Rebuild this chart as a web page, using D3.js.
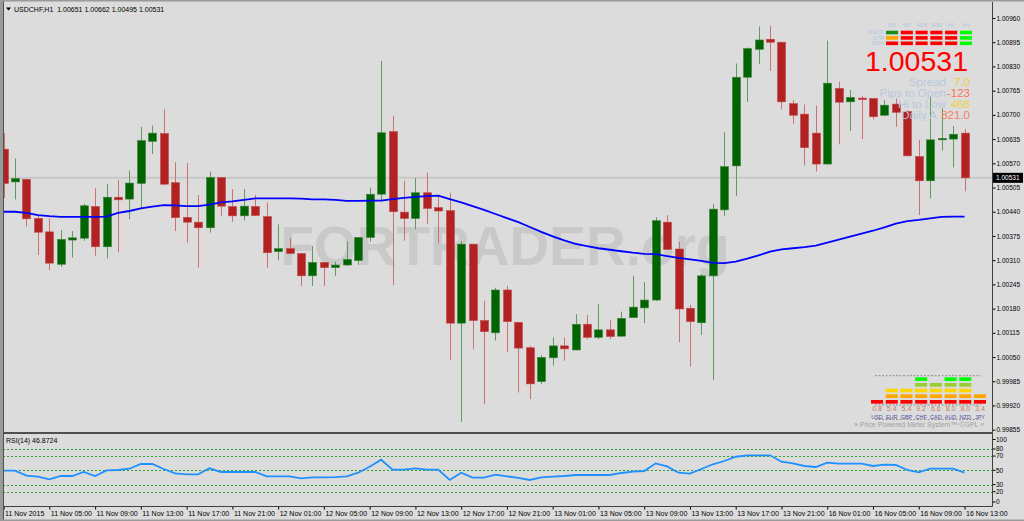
<!DOCTYPE html>
<html><head><meta charset="utf-8">
<script src="https://cdn.jsdelivr.net/npm/d3@7"></script>
<style>html,body{margin:0;padding:0;background:#dcdcdc;overflow:hidden}svg text{font-family:"Liberation Sans",Arial,sans-serif}</style>
</head><body><svg id="c" width="1024" height="521"></svg>
<script>
// ---------------- DATA ----------------
const headerText = "USDCHF,H1  1.00651 1.00662 1.00495 1.00531";
const open = [1.00608,1.00520,1.00527,1.00422,1.00386,1.00299,1.00364,1.00369,1.00454,1.00346,
1.00479,1.00474,1.00516,1.00629,1.00650,1.00518,1.00425,1.00412,1.00397,1.00532,
1.00454,1.00429,1.00454,1.00427,1.00333,1.00341,1.00328,1.00268,1.00304,1.00290,
1.00297,1.00309,1.00371,1.00487,1.00655,1.00439,1.00422,1.00491,1.00451,1.00443,
1.00141,1.00353,1.00148,1.00115,1.00230,1.00143,1.00075,0.99984,1.00048,1.00080,
1.00069,1.00138,1.00103,1.00123,1.00106,1.00156,1.00182,1.00203,1.00412,1.00340,
1.00181,1.00142,1.00268,1.00445,1.00563,1.00801,1.00876,1.00903,1.00895,1.00730,
1.00702,1.00651,1.00568,1.00771,1.00735,1.00745,1.00744,1.00699,1.00729,1.00709,
1.00588,1.00523,1.00633,1.00635,1.00651];
const high = [1.00651,1.00583,1.00529,1.00431,1.00422,1.00391,1.00388,1.00461,1.00503,1.00514,
1.00525,1.00550,1.00668,1.00671,1.00715,1.00573,1.00571,1.00485,1.00548,1.00533,
1.00501,1.00501,1.00485,1.00465,1.00406,1.00370,1.00329,1.00348,1.00305,1.00306,
1.00360,1.00372,1.00505,1.00845,1.00697,1.00523,1.00531,1.00545,1.00480,1.00491,
1.00361,1.00354,1.00201,1.00236,1.00241,1.00144,1.00080,1.00055,1.00103,1.00102,
1.00165,1.00163,1.00192,1.00149,1.00172,1.00268,1.00251,1.00425,1.00431,1.00360,
1.00190,1.00273,1.00461,1.00653,1.00838,1.00881,1.00937,1.00939,1.00896,1.00740,
1.00728,1.00725,1.00899,1.00789,1.00767,1.00751,1.00745,1.00740,1.00744,1.00713,
1.00633,1.00749,1.00718,1.00670,1.00662];
const low = [1.00477,1.00473,1.00400,1.00324,1.00284,1.00292,1.00317,1.00362,1.00322,1.00315,
1.00331,1.00420,1.00449,1.00595,1.00511,1.00388,1.00357,1.00290,1.00384,1.00429,
1.00413,1.00416,1.00428,1.00290,1.00310,1.00327,1.00241,1.00241,1.00241,1.00268,
1.00294,1.00297,1.00360,1.00467,1.00243,1.00362,1.00393,1.00407,1.00355,1.00042,
0.99876,1.00071,0.99923,1.00094,1.00063,0.99955,0.99937,0.99978,1.00027,1.00040,
1.00068,1.00098,1.00098,1.00098,1.00105,1.00155,1.00141,1.00200,1.00338,1.00090,
1.00024,1.00109,0.99988,1.00429,1.00483,1.00735,1.00836,1.00818,1.00715,1.00676,
1.00564,1.00548,1.00567,1.00621,1.00657,1.00635,1.00688,1.00698,1.00668,1.00589,
1.00431,1.00476,1.00604,1.00559,1.00495];
const close = [1.00516,1.00529,1.00421,1.00385,1.00302,1.00366,1.00370,1.00456,1.00346,1.00479,
1.00472,1.00517,1.00631,1.00651,1.00514,1.00424,1.00412,1.00397,1.00532,1.00455,
1.00429,1.00455,1.00430,1.00330,1.00341,1.00328,1.00268,1.00304,1.00290,1.00297,
1.00312,1.00371,1.00487,1.00652,1.00440,1.00422,1.00491,1.00449,1.00442,1.00141,
1.00353,1.00148,1.00118,1.00230,1.00145,1.00074,0.99978,1.00049,1.00080,1.00072,
1.00138,1.00103,1.00123,1.00105,1.00154,1.00184,1.00203,1.00416,1.00339,1.00179,
1.00145,1.00268,1.00447,1.00561,1.00801,1.00878,1.00901,1.00895,1.00735,1.00699,
1.00612,1.00568,1.00785,1.00734,1.00747,1.00741,1.00695,1.00726,1.00707,1.00590,
1.00523,1.00633,1.00637,1.00648,1.00531];
const maValues = [1.00440,1.00440,1.00437,1.00431,1.00428,1.00426,1.00426,1.00426,1.00426,1.00427,
1.00437,1.00442,1.00449,1.00454,1.00458,1.00457,1.00455,1.00455,1.00459,1.00465,
1.00468,1.00472,1.00476,1.00476,1.00476,1.00476,1.00475,1.00473,1.00473,1.00472,
1.00469,1.00469,1.00470,1.00470,1.00474,1.00477,1.00480,1.00482,1.00483,1.00474,
1.00465,1.00455,1.00445,1.00434,1.00423,1.00412,1.00399,1.00386,1.00374,1.00363,
1.00354,1.00348,1.00342,1.00338,1.00334,1.00330,1.00327,1.00326,1.00321,1.00316,
1.00312,1.00308,1.00303,1.00302,1.00306,1.00314,1.00323,1.00333,1.00339,1.00342,
1.00345,1.00349,1.00357,1.00365,1.00373,1.00381,1.00389,1.00398,1.00408,1.00415,
1.00418,1.00422,1.00426,1.00427,1.00427];
const rsiValues = [49.5,49.5,42.5,41.1,37.4,42.1,42.1,47.7,42.1,50.0,
50.5,52.3,58.9,58.9,51.9,45.9,44.4,44.4,52.9,47.7,
47.7,47.7,47.7,41.6,41.6,41.6,38.8,40.2,40.2,40.6,
41.6,46.7,55.1,64.9,50.9,50.9,52.9,50.9,50.9,36.5,
46.7,39.7,39.7,43.9,41.6,39.5,36.5,40.2,41.1,42.1,
43.5,43.5,43.5,43.5,46.3,48.1,49.1,59.8,55.6,46.7,
45.3,51.9,58.5,63.1,69.1,71.1,71.1,71.1,62.1,59.8,
56.1,54.7,60.7,59.3,59.3,59.3,56.1,57.9,57.5,50.5,
47.3,52.3,52.3,52.3,46.9];
const rsiLabel = "RSI(14) 46.8724";
const lastPrice = 1.00531;
const priceTicks = [1.00960,1.00895,1.00830,1.00765,1.00700,1.00635,1.00570,1.00505,1.00440,
1.00375,1.00310,1.00245,1.00180,1.00115,1.00050,0.99985,0.99920,0.99855];
const rsiTicks = [100,80,70,50,30,20,0];
const rsiLevels = [80,70,50,30,20];
const xTickLabels = ["11 Nov 2015","11 Nov 05:00","11 Nov 09:00","11 Nov 13:00","11 Nov 17:00","11 Nov 21:00",
"12 Nov 01:00","12 Nov 05:00","12 Nov 09:00","12 Nov 13:00","12 Nov 17:00","12 Nov 21:00",
"13 Nov 01:00","13 Nov 05:00","13 Nov 09:00","13 Nov 13:00","13 Nov 17:00","13 Nov 21:00",
"16 Nov 01:00","16 Nov 05:00","16 Nov 09:00","16 Nov 13:00"];
const watermark = "FORTRADER.org";
const tfLabels = ["M1","M5","M15","M30","H1","H4"];
const signalRows = ["MACD","STR","EMA"];
const signalColors = [
  ["#1a8a1a","#ff0000","#ff0000","#ff0000","#ff0000","#00ff00"],
  ["#ffa500","#ff0000","#ff0000","#ff0000","#ff0000","#00ff00"],
  ["#ff0000","#ff0000","#ff0000","#ff0000","#ff0000","#00ff00"]];
const infoLabels = ["Spread","Pips to Open","Hi to Low","Daily A"];
const infoValues = ["7.0","-123","468","821.0"];
const infoColors = ["#f0d040","#ff7050","#f0d040","#f88060"];
const currencies = ["USD","EUR","GBP","CHF","CAD","AUD","NZD","JPY"];
const strength = [0.8,5.4,5.4,9.2,6.6,8.0,8.0,3.4];
const strengthLevels = [1,3,3,5,4,5,5,2];
const levelColors = ["#ff0000","#ffa500","#ffd700","#9acd32","#00ff00"];
const meterCaption = "» Price Powered Meter System™ ©GPL «";

// ---------------- CHART ----------------
const svg = d3.select("#c");
const n = close.length;
const x = d3.scaleLinear().domain([0, n - 1]).range([3.6, 964.5]);
const y = d3.scaleLinear().domain([0.99855, 1.00960]).range([429.7, 18]);
const yR = d3.scaleLinear().domain([0, 100]).range([506, 434.7]);

svg.append("rect").attr("width",1024).attr("height",521).attr("fill","#dcdcdc");

const defs = svg.append("defs");
defs.append("clipPath").attr("id","mainClip").append("rect").attr("x",3).attr("y",2).attr("width",989).attr("height",430);
defs.append("clipPath").attr("id","rsiClip").append("rect").attr("x",3).attr("y",435).attr("width",989).attr("height",71);

const main = svg.append("g").attr("clip-path","url(#mainClip)");

// watermark
main.append("text").attr("x",505).attr("y",265).attr("text-anchor","middle")
  .attr("font-size",55).attr("font-weight","bold").attr("fill","#c9c9c9").text(watermark);

// bid line
main.append("line").attr("x1",3).attr("x2",992).attr("y1",y(lastPrice)).attr("y2",y(lastPrice))
  .attr("stroke","#c8c8c8").attr("stroke-width",2);

// candles
const idx = d3.range(n);
const up = i => close[i] >= open[i];
const cg = main.append("g");
cg.selectAll("line.w").data(idx).join("line").attr("class","w")
  .attr("x1",i=>Math.round(x(i))+0.5).attr("x2",i=>Math.round(x(i))+0.5)
  .attr("y1",i=>y(high[i])).attr("y2",i=>y(low[i]))
  .attr("stroke",i=>up(i)?"#5f9a5f":"#cf7070").attr("stroke-width",1);
cg.selectAll("rect.b").data(idx).join("rect").attr("class","b")
  .attr("x",i=>Math.round(x(i))-3.5).attr("width",8)
  .attr("y",i=>y(Math.max(open[i],close[i])))
  .attr("height",i=>Math.max(1.5, y(Math.min(open[i],close[i])) - y(Math.max(open[i],close[i]))))
  .attr("fill",i=>up(i)?"#006400":"#b22222")
  .attr("stroke",i=>up(i)?"#3d803d":"#c04848").attr("stroke-width",0.6);

// moving average
main.append("path").datum(idx)
  .attr("d", d3.line().x(i=>x(i)).y(i=>y(maValues[i])))
  .attr("fill","none").attr("stroke","#0000ff").attr("stroke-width",1.8);

// header
svg.append("path").attr("d","M6,7.5 L11,7.5 L8.5,10.5 Z").attr("fill","#000");
svg.append("text").attr("x",14).attr("y",11.5).attr("font-size",7).attr("fill","#000")
  .attr("xml:space","preserve").text(headerText);

// top-right signal panel
const colX = d3.scaleBand().domain(tfLabels).range([886, 972]).paddingInner(0.18);
const tp = svg.append("g");
tp.selectAll("text.tf").data(tfLabels).join("text").attr("class","tf")
  .attr("x",d=>colX(d)+colX.bandwidth()/2).attr("y",27).attr("text-anchor","middle")
  .attr("font-size",5.5).attr("fill","#b0c4de").text(d=>d);
const rowY = d3.scalePoint().domain(signalRows).range([32.5, 43.3]);
tp.selectAll("text.rl").data(signalRows).join("text").attr("class","rl")
  .attr("x",884).attr("y",d=>rowY(d)+1.9).attr("text-anchor","end")
  .attr("font-size",5.5).attr("fill","#b0c4de").text(d=>d);
signalRows.forEach((r,ri)=>{
  tp.selectAll("rect.s"+ri).data(tfLabels).join("rect").attr("class","s"+ri)
    .attr("x",d=>colX(d)).attr("width",colX.bandwidth())
    .attr("y",rowY(r)-1.8).attr("height",3.6)
    .attr("fill",(d,ci)=>signalColors[ri][ci]);
});
tp.append("text").attr("x",968).attr("y",71).attr("text-anchor","end")
  .attr("font-size",28.5).attr("fill","#ff0000").text(lastPrice.toFixed(5));
const infoY = d3.scalePoint().domain(infoLabels).range([85.5, 118.5]);
tp.selectAll("text.il").data(infoLabels).join("text").attr("class","il")
  .attr("x",(d,i)=>i===3?937:946).attr("y",d=>infoY(d)).attr("text-anchor","end")
  .attr("font-size",11.5).attr("fill","#b8c8dc").text(d=>d);
tp.selectAll("text.iv").data(infoValues).join("text").attr("class","iv")
  .attr("x",970).attr("y",(d,i)=>infoY(infoLabels[i])).attr("text-anchor","end")
  .attr("font-size",11.5).attr("fill",(d,i)=>infoColors[i]).text(d=>d);

// bottom-right currency meter
const mx = d3.scaleBand().domain(currencies).range([871, 986]).paddingInner(0.18);
const lvY = d3.scaleLinear().domain([0, 4]).range([400, 377.3]);
const mg = svg.append("g");
[375.7, 405, 419.5].forEach(yy=>{
  mg.append("line").attr("x1",875).attr("x2",981).attr("y1",yy).attr("y2",yy)
    .attr("stroke","#7a7a7a").attr("stroke-width",0.8).attr("stroke-dasharray","2,1.5");
});
currencies.forEach((c,ci)=>{
  mg.selectAll("rect.m"+ci).data(d3.range(strengthLevels[ci])).join("rect").attr("class","m"+ci)
    .attr("x",mx(c)).attr("width",mx.bandwidth()).attr("y",l=>lvY(l)).attr("height",3.7)
    .attr("fill",l=>levelColors[l]);
});
mg.selectAll("text.mv").data(strength).join("text").attr("class","mv")
  .attr("x",(d,i)=>mx(currencies[i])+mx.bandwidth()/2).attr("y",411).attr("text-anchor","middle")
  .attr("font-size",7).attr("fill","#c08060").text(d=>d.toFixed(1));
mg.selectAll("text.mc").data(currencies).join("text").attr("class","mc")
  .attr("x",d=>mx(d)+mx.bandwidth()/2).attr("y",418.5).attr("text-anchor","middle")
  .attr("font-size",5.5).attr("fill","#5050a0").text(d=>d);
mg.append("text").attr("x",919).attr("y",427).attr("text-anchor","middle")
  .attr("font-size",7).attr("fill","#a0a0a0").text(meterCaption);

// price axis
const pa = svg.append("g").attr("transform","translate(992.5,0)")
  .call(d3.axisRight(y).tickValues(priceTicks).tickFormat(d3.format(".5f")).tickSize(3).tickPadding(1));
pa.select(".domain").remove();
pa.selectAll("text").attr("font-size",6.5).attr("font-family","'Liberation Sans',Arial,sans-serif").attr("fill","#000");
pa.selectAll("line").attr("stroke","#000");

// current price box
svg.append("rect").attr("x",993).attr("y",y(lastPrice)-5).attr("width",30).attr("height",10).attr("fill","#000");
svg.append("text").attr("x",996).attr("y",y(lastPrice)+2.3).attr("font-size",6.5).attr("fill","#fff").text(lastPrice.toFixed(5));

// RSI panel
const rp = svg.append("g").attr("clip-path","url(#rsiClip)");
rp.selectAll("line.lv").data(rsiLevels).join("line").attr("class","lv")
  .attr("x1",3).attr("x2",992).attr("y1",d=>Math.round(yR(d))+0.5).attr("y2",d=>Math.round(yR(d))+0.5)
  .attr("stroke","#2ea02e").attr("stroke-width",1).attr("stroke-dasharray","2,2");
rp.append("path").datum(idx)
  .attr("d", d3.line().x(i=>x(i)).y(i=>yR(rsiValues[i])))
  .attr("fill","none").attr("stroke","#1e90ff").attr("stroke-width",1.8);
svg.append("text").attr("x",6).attr("y",442.5).attr("font-size",7).attr("fill","#000").text(rsiLabel);
svg.selectAll("text.rt").data(rsiTicks).join("text").attr("class","rt")
  .attr("x",996).attr("y",d=>Math.min(502, Math.max(439.5, yR(d)))+2.3)
  .attr("font-size",6.5).attr("fill","#000").text(d=>d);
svg.selectAll("line.rtk").data(rsiTicks).join("line").attr("class","rtk")
  .attr("x1",992.5).attr("x2",995.5)
  .attr("y1",d=>Math.min(502, Math.max(439.5, yR(d)))).attr("y2",d=>Math.min(502, Math.max(439.5, yR(d))))
  .attr("stroke","#000");

// time axis
const xa = svg.append("g").attr("transform","translate(0,506.5)")
  .call(d3.axisBottom(x).tickValues(d3.range(0, n, 4)).tickFormat((d,i)=>xTickLabels[i]).tickSize(3).tickPadding(2));
xa.select(".domain").remove();
xa.selectAll("line").attr("stroke","#000");
xa.selectAll("text").attr("text-anchor","start").attr("x",1).attr("font-size",7)
  .attr("font-family","'Liberation Sans',Arial,sans-serif").attr("fill","#000");

// frames
svg.append("line").attr("x1",992.5).attr("x2",992.5).attr("y1",2).attr("y2",506.5).attr("stroke","#404040").attr("stroke-width",1);
svg.append("line").attr("x1",3).attr("x2",992.5).attr("y1",433).attr("y2",433).attr("stroke","#505050").attr("stroke-width",2);
svg.append("line").attr("x1",3).attr("x2",992.5).attr("y1",506.5).attr("y2",506.5).attr("stroke","#404040").attr("stroke-width",1);
svg.append("rect").attr("x",0).attr("y",0).attr("width",3).attr("height",521).attr("fill","#9a9a9a");
svg.append("line").attr("x1",3.5).attr("x2",3.5).attr("y1",0).attr("y2",521).attr("stroke","#505050");
svg.append("rect").attr("x",0).attr("y",0).attr("width",1024).attr("height",1.5).attr("fill","#9a9a9a");
svg.append("rect").attr("x",0).attr("y",519.5).attr("width",1024).attr("height",1.5).attr("fill","#9a9a9a");
</script></body></html>
